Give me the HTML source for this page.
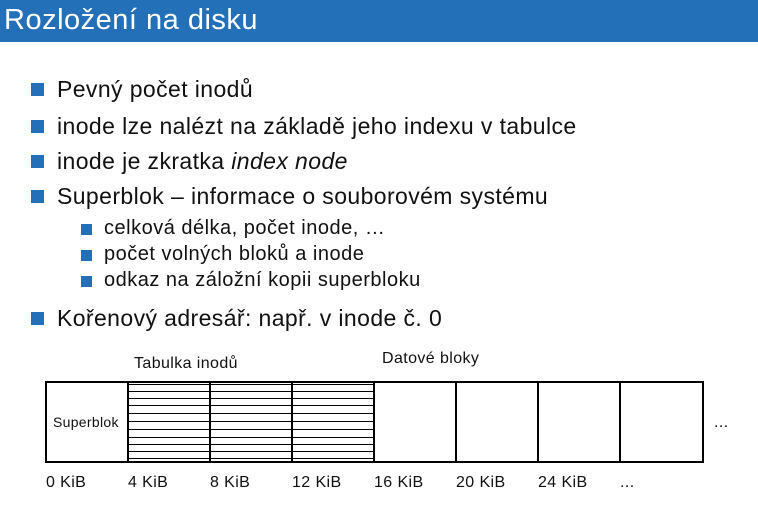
<!DOCTYPE html>
<html><head><meta charset="utf-8"><style>
body{margin:0;width:758px;height:516px;background:#fff;position:relative;overflow:hidden;font-family:"Liberation Sans",sans-serif;color:#111}
.t{position:absolute;white-space:nowrap;line-height:1}
.bar{position:absolute;left:0;top:0;width:758px;height:42px;background:#2470b8}
.sq{position:absolute;background:#2470b8}
.m{font-size:23px;letter-spacing:0.4px}
.s{font-size:20px;letter-spacing:0.5px}
.d{font-size:16px;letter-spacing:0.4px}
</style></head><body>
<div class="bar"></div>
<div class="t" style="left:4px;top:6px;font-size:29px;letter-spacing:0.5px;color:#fff">Rozložení na disku</div>

<div class="sq" style="left:31px;top:83px;width:13px;height:13px"></div>
<div class="t m" style="left:57px;top:78px">Pevný počet inodů</div>
<div class="sq" style="left:31px;top:120px;width:13px;height:13px"></div>
<div class="t m" style="left:57px;top:115px">inode lze nalézt na základě jeho indexu v tabulce</div>
<div class="sq" style="left:31px;top:155px;width:13px;height:13px"></div>
<div class="t m" style="left:57px;top:150px">inode je zkratka <i>index node</i></div>
<div class="sq" style="left:31px;top:190px;width:13px;height:13px"></div>
<div class="t m" style="left:57px;top:185px">Superblok – informace o souborovém systému</div>

<div class="sq" style="left:81px;top:224px;width:11px;height:11px"></div>
<div class="t s" style="left:104px;top:218px">celková délka, počet inode, …</div>
<div class="sq" style="left:81px;top:250px;width:11px;height:11px"></div>
<div class="t s" style="left:104px;top:244px">počet volných bloků a inode</div>
<div class="sq" style="left:81px;top:276px;width:11px;height:11px"></div>
<div class="t s" style="left:104px;top:270px">odkaz na záložní kopii superbloku</div>

<div class="sq" style="left:31px;top:312px;width:13px;height:13px"></div>
<div class="t m" style="left:57px;top:307px">Kořenový adresář: např. v inode č. 0</div>

<div class="t d" style="left:134px;top:356px">Tabulka inodů</div>
<div class="t d" style="left:382px;top:351px">Datové bloky</div>

<svg style="position:absolute;left:0;top:0" width="758" height="516">
<g stroke="#000" stroke-width="1">
<line x1="128" y1="384.5" x2="374" y2="384.5"/><line x1="128" y1="391.5" x2="374" y2="391.5"/>
<line x1="128" y1="398.5" x2="374" y2="398.5"/><line x1="128" y1="405.5" x2="374" y2="405.5"/>
<line x1="128" y1="413.5" x2="374" y2="413.5"/><line x1="128" y1="421.5" x2="374" y2="421.5"/>
<line x1="128" y1="429.5" x2="374" y2="429.5"/><line x1="128" y1="437.5" x2="374" y2="437.5"/>
<line x1="128" y1="444.5" x2="374" y2="444.5"/><line x1="128" y1="451.5" x2="374" y2="451.5"/>
<line x1="128" y1="458.5" x2="374" y2="458.5"/>
</g>
<g stroke="#000" stroke-width="2" fill="none">
<rect x="46" y="382" width="657" height="80"/>
<line x1="128" y1="382" x2="128" y2="462"/><line x1="210" y1="382" x2="210" y2="462"/>
<line x1="292" y1="382" x2="292" y2="462"/><line x1="374" y1="382" x2="374" y2="462"/>
<line x1="456" y1="382" x2="456" y2="462"/><line x1="538" y1="382" x2="538" y2="462"/>
<line x1="620" y1="382" x2="620" y2="462"/>
</g>
</svg>
<div class="t" style="left:53px;top:415px;font-size:14px;letter-spacing:0.3px">Superblok</div>
<div class="t d" style="left:714px;top:415px">...</div>
<div class="t d" style="left:46px;top:475px">0 KiB</div>
<div class="t d" style="left:128px;top:475px">4 KiB</div>
<div class="t d" style="left:210px;top:475px">8 KiB</div>
<div class="t d" style="left:292px;top:475px">12 KiB</div>
<div class="t d" style="left:374px;top:475px">16 KiB</div>
<div class="t d" style="left:456px;top:475px">20 KiB</div>
<div class="t d" style="left:538px;top:475px">24 KiB</div>
<div class="t d" style="left:620px;top:475px">...</div>
</body></html>
